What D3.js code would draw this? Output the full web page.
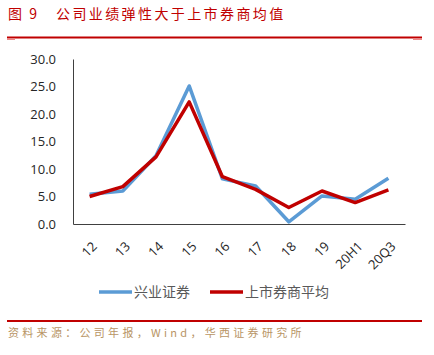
<!DOCTYPE html>
<html><head><meta charset="utf-8">
<script src="https://cdn.jsdelivr.net/npm/d3@7/dist/d3.min.js"></script>
<style>body{margin:0;background:#fff;}svg{display:block;}</style>
</head><body>
<svg id="c" width="434" height="355"></svg>
<script>
const categories = ["12","13","14","15","16","17","18","19","20H1","20Q3"];
const xingye = [5.4, 6.0, 12.4, 25.1, 8.2, 6.9, 0.4, 5.1, 4.5, 8.3];
const average = [5.0, 6.8, 12.2, 22.2, 8.6, 6.3, 3.0, 6.0, 3.9, 6.2];
const yTicks = [0, 5, 10, 15, 20, 25, 30];
const seriesNames = ["兴业证券", "上市券商平均"];
const titleNum = "图 9";
const title = "公司业绩弹性大于上市券商均值";
const source = "资料来源：公司年报，Wind，华西证券研究所";

const svg = d3.select("#c");
const L = 73, R = 405, T = 59, B = 224;
const x = d3.scaleBand().domain(categories).range([L, R]);
const y = d3.scaleLinear().domain([0, 30]).range([B, T]);

// title
svg.append("text").attr("x", 8).attr("y", 19).attr("fill", "#c00000")
  .attr("font-family", "Noto Sans CJK SC").attr("font-size", 14).attr("letter-spacing", 2)
  .style("white-space","pre").text(titleNum);
svg.append("text").attr("x", 56).attr("y", 19).attr("fill", "#c00000")
  .attr("font-family", "Noto Sans CJK SC").attr("font-size", 14).attr("letter-spacing", 2.4)
  .text(title);
svg.append("rect").attr("x", 7).attr("y", 36.5).attr("width", 415).attr("height", 2).attr("fill", "#c00000");
svg.append("rect").attr("x", 7).attr("y", 38.5).attr("width", 8).attr("height", 1.5).attr("fill", "#e88");
svg.append("rect").attr("x", 413).attr("y", 38.5).attr("width", 9).attr("height", 1.5).attr("fill", "#e88");

// axes
const yAxis = d3.axisLeft(y).tickValues(yTicks).tickSize(0).tickPadding(17).tickFormat(d3.format(".1f"));
const gy = svg.append("g").attr("transform", `translate(${L},0)`).call(yAxis);
gy.select(".domain").attr("stroke", "#404040").attr("stroke-width", 1);
gy.selectAll("text").attr("font-family", "Open Sans, Noto Sans").attr("font-size", 13).attr("fill", "#262626");

const xAxis = d3.axisBottom(x).tickSize(0).tickPadding(0);
const gx = svg.append("g").attr("transform", `translate(0,${B})`).call(xAxis);
gx.select(".domain").attr("stroke", "#404040").attr("stroke-width", 1);
gx.selectAll("text").attr("font-family", "Open Sans, Noto Sans").attr("font-size", 13).attr("fill", "#262626")
  .attr("text-anchor", "end").attr("dy", "0.35em")
  .attr("transform", "translate(5,20) rotate(-45)");

// lines
const line = d3.line().x((d, i) => x(categories[i]) + x.bandwidth() / 2).y(d => y(d));
svg.append("path").datum(xingye).attr("d", line).attr("fill", "none")
  .attr("stroke", "#5b9bd5").attr("stroke-width", 3.5).attr("stroke-linejoin", "round");
svg.append("path").datum(average).attr("d", line).attr("fill", "none")
  .attr("stroke", "#c00000").attr("stroke-width", 3.5).attr("stroke-linejoin", "round");

// legend
const lg = [{x1: 99, name: seriesNames[0], c: "#5b9bd5"}, {x1: 210, name: seriesNames[1], c: "#c00000"}];
lg.forEach(d => {
  svg.append("line").attr("x1", d.x1).attr("x2", d.x1 + 33).attr("y1", 292).attr("y2", 292)
    .attr("stroke", d.c).attr("stroke-width", 3.5);
  svg.append("text").attr("x", d.x1 + 35).attr("y", 297).attr("fill", "#595959")
    .attr("font-family", "Noto Sans CJK SC").attr("font-size", 14).text(d.name);
});

// footer
svg.append("rect").attr("x", 7).attr("y", 320).attr("width", 415).attr("height", 2).attr("fill", "#c00000");
svg.append("text").attr("x", 8).attr("y", 337).attr("fill", "#b89565")
  .attr("font-family", "Noto Sans CJK SC").attr("font-size", 11).attr("letter-spacing", 3.3).text(source);
</script>
</body></html>
